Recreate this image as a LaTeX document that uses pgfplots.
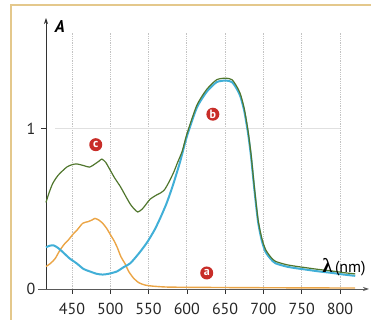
\documentclass[border=0pt]{standalone}
\usepackage{fontspec}
\setmainfont{PT Sans}
\newfontfamily\lamfont{Liberation Serif}
\usepackage{pgfplots}
\pgfplotsset{compat=1.18}
\usetikzlibrary{arrows.meta,calc}
\definecolor{cgreen}{RGB}{80,118,45}
\definecolor{cblue}{RGB}{65,175,215}
\definecolor{corange}{RGB}{235,165,70}
\definecolor{cred}{RGB}{200,45,40}
\definecolor{ctan}{RGB}{228,200,140}
\definecolor{cgrid}{RGB}{195,195,195}
\begin{document}
\begin{tikzpicture}
\begin{axis}[
  name=ax,
  scale only axis, width=323pt, height=271pt,
  xmin=416, xmax=838, ymin=0, ymax=1.69,
  axis lines=left,
  x axis line style={gray!70!black, line width=0.8pt, shorten <=-8pt, -{Stealth[length=6pt,width=4pt]}},
  y axis line style={black!80, line width=0.7pt, -{Stealth[length=6pt,width=4pt]}},
  xtick={450,500,...,800}, ytick={1},
  extra y ticks={0}, extra y tick style={tick style={draw=none}},
  tick align=outside, major tick length=5pt,
  tick style={black!80, line width=0.6pt},
  /pgf/number format/assume math mode=true,
  /pgf/number format/.cd, set thousands separator={}, /pgfplots/.cd,
  tick label style={font=\fontsize{16}{16}\selectfont, text=black!85},
  xticklabel style={yshift=-6pt},
  yticklabel style={xshift=-2pt},
  clip=false,
]
% grid
\pgfplotsinvokeforeach{450,500,...,800}{
  \draw[cgrid, densely dotted, line width=0.8pt] (axis cs:#1,0) -- (axis cs:#1,1.6);
}
\draw[black!12, line width=0.8pt] (axis cs:428,1) -- (axis cs:800,1);

% a: orange
\addplot[corange, line width=1.4pt, smooth, tension=0.4] coordinates {
(416,0.14) (422,0.16) (428,0.19) (434,0.24) (440,0.28) (446,0.31) (451,0.34)
(457,0.37) (464,0.41) (471,0.42) (476,0.43) (480,0.44) (485,0.43) (490,0.41)
(495,0.38) (500,0.34) (505,0.30) (509,0.26) (514,0.20) (519,0.16) (524,0.11)
(530,0.07) (537,0.04) (545,0.025) (555,0.018) (575,0.012) (620,0.010)
(700,0.008) (820,0.006)};

% b: blue
\addplot[cblue, line width=2pt, smooth, tension=0.4] coordinates {
(416,0.26) (421,0.27) (426,0.272) (432,0.255) (438,0.23) (447,0.19) (456,0.16)
(465,0.125) (473,0.11) (482,0.095) (490,0.09) (498,0.095) (509,0.11)
(517,0.135) (526,0.16) (537,0.22) (548,0.29) (558,0.37) (566,0.45)
(574,0.54) (582,0.65) (591,0.79) (600,0.95) (613,1.13) (626,1.23)
(639,1.29) (651,1.30) (659,1.29) (665,1.25) (670,1.20) (675,1.11)
(680,0.97) (684,0.82) (688,0.63) (693,0.42) (698,0.30) (703,0.23)
(710,0.185) (716,0.16) (730,0.14) (742,0.13) (757,0.12) (772,0.11)
(790,0.10) (805,0.09) (820,0.082)};

% c: green
\addplot[cgreen, line width=1.2pt, smooth, tension=0.4] coordinates {
(416,0.54) (420,0.60) (425,0.66) (432,0.71) (443,0.76) (450,0.775) (456,0.78)
(465,0.77) (473,0.76) (480,0.78) (486,0.80) (489,0.81) (494,0.79) (500,0.74)
(506,0.69) (513,0.64) (520,0.58) (526,0.53) (531,0.50) (536,0.48) (542,0.50)
(547,0.53) (552,0.56) (560,0.585) (566,0.60) (571,0.62) (577,0.67) (583,0.73)
(588,0.79) (594,0.86) (600,0.965) (613,1.145) (626,1.245)
(639,1.305) (651,1.315) (659,1.305) (665,1.265) (670,1.215) (675,1.125)
(680,0.985) (684,0.835) (688,0.645) (693,0.435) (698,0.315) (703,0.245)
(710,0.197) (716,0.172) (730,0.152) (742,0.142) (757,0.132) (772,0.122)
(790,0.112) (805,0.102) (820,0.094)};

% labels
\node[circle, fill=cred, inner sep=0pt, minimum size=13pt, text=white,
  font=\bfseries\fontsize{12}{12}\selectfont] at (axis cs:626,0.10) {a};
\node[circle, fill=cred, inner sep=0pt, minimum size=13pt, text=white,
  font=\bfseries\fontsize{12}{12}\selectfont] at (axis cs:634,1.09) {b};
\node[circle, fill=cred, inner sep=0pt, minimum size=13pt, text=white,
  font=\bfseries\fontsize{12}{12}\selectfont] at (axis cs:481,0.90) {c};
\node[anchor=base west, inner sep=0pt, font=\fontsize{16}{16}\selectfont] at (axis cs:777,0.105)
  {{\lamfont\bfseries\fontsize{20}{20}\selectfont λ}\,(nm)};
\node[inner sep=0pt, font=\itshape\bfseries\fontsize{17}{17}\selectfont] at (axis cs:434,1.64) {A};
\end{axis}
\draw[ctan, line width=1.5pt] ($(ax.south west)+(-35pt,-31pt)$) -- ++(0,315pt) -- ++(360pt,0);
\pgfresetboundingbox
\path[use as bounding box] ($(ax.south west)+(-46pt,-31pt)$) rectangle ++(371pt,320pt);
\end{tikzpicture}
\end{document}
